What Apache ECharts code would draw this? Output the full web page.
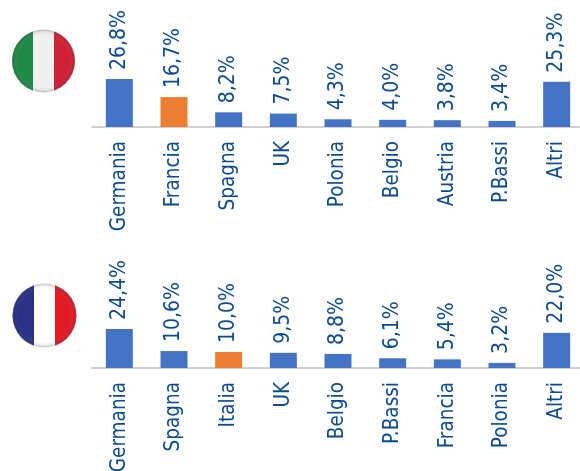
<!DOCTYPE html>
<html><head><meta charset="utf-8">
<style>html,body{margin:0;padding:0;background:#fff}#c{width:580px;height:471px}</style>
<script src="https://cdn.jsdelivr.net/npm/echarts@6/dist/echarts.min.js"></script>
</head><body><div id="c"></div>
<script>
const catsIT=["Germania","Francia","Spagna","UK","Polonia","Belgio","Austria","P.Bassi","Altri"];
const valsIT=[26.8,16.7,8.2,7.5,4.3,4.0,3.8,3.4,25.3];
const hiIT="Francia";
const catsFR=["Germania","Spagna","Italia","UK","Belgio","P.Bassi","Francia","Polonia","Altri"];
const valsFR=[24.4,10.6,10.0,9.5,8.8,6.1,5.4,3.2,22.0];
const hiFR="Italia";
const FONT='"DejaVu Sans Condensed","DejaVu Sans"', TXT='#0b4a8f', BLUE='#4472c4', ORANGE='#ed7d31';
function ser(i,cats,vals,hi){return{type:'bar',xAxisIndex:i,yAxisIndex:i,barWidth:27,
  data:vals.map((v,k)=>({value:v,itemStyle:{color:cats[k]===hi?ORANGE:BLUE}})),
  label:{show:true,position:'top',distance:9,rotate:90,align:'left',verticalAlign:'middle',
    fontFamily:FONT,fontSize:21,color:TXT,formatter:p=>p.value.toFixed(1).replace('.',',')+'%'}};}
function xa(i,cats){return{type:'category',gridIndex:i,data:cats,
  axisLine:{lineStyle:{color:'#d0d0d0',width:2}},axisTick:{show:false},
  axisLabel:{rotate:90,interval:0,margin:14,fontFamily:FONT,fontSize:20.5,color:TXT}};}
function ya(i,max){return{type:'value',gridIndex:i,min:0,max:max,show:false};}
function flag(cx,cy,r,a,b,c){return [
 {type:'circle',shape:{cx:cx,cy:cy,r:r},style:{fill:new echarts.graphic.LinearGradient(0,0,1,0,[
  {offset:0,color:a},{offset:.34,color:a},{offset:.34,color:b},{offset:.66,color:b},{offset:.66,color:c},{offset:1,color:c}])}},
 {type:'circle',shape:{cx:cx,cy:cy,r:r},style:{fill:new echarts.graphic.RadialGradient(.5,.5,.5,[
  {offset:0,color:'rgba(255,255,255,0)'},{offset:.82,color:'rgba(255,255,255,0)'},{offset:.94,color:'rgba(60,60,60,.12)'},{offset:1,color:'rgba(120,120,120,.4)'}])}}
];}
const chart=echarts.init(document.getElementById('c'),null,{renderer:'canvas'});
chart.setOption({animation:false,
 grid:[{left:92,width:492,top:27,height:100,outerBoundsMode:'none'},{left:92,width:492,top:268,height:100,outerBoundsMode:'none'}],
 xAxis:[xa(0,catsIT),xa(1,catsFR)],
 yAxis:[ya(0,55.8),ya(1,62.6)],
 series:[ser(0,catsIT,valsIT,hiIT),ser(1,catsFR,valsFR,hiFR)],
 graphic:{elements:[...flag(43.5,61,31.5,'#1f8a48','#f0f0f0','#cf2136'),...flag(44.5,315.5,32,'#2a3187','#ffffff','#e21a25')]}
});
</script></body></html>
